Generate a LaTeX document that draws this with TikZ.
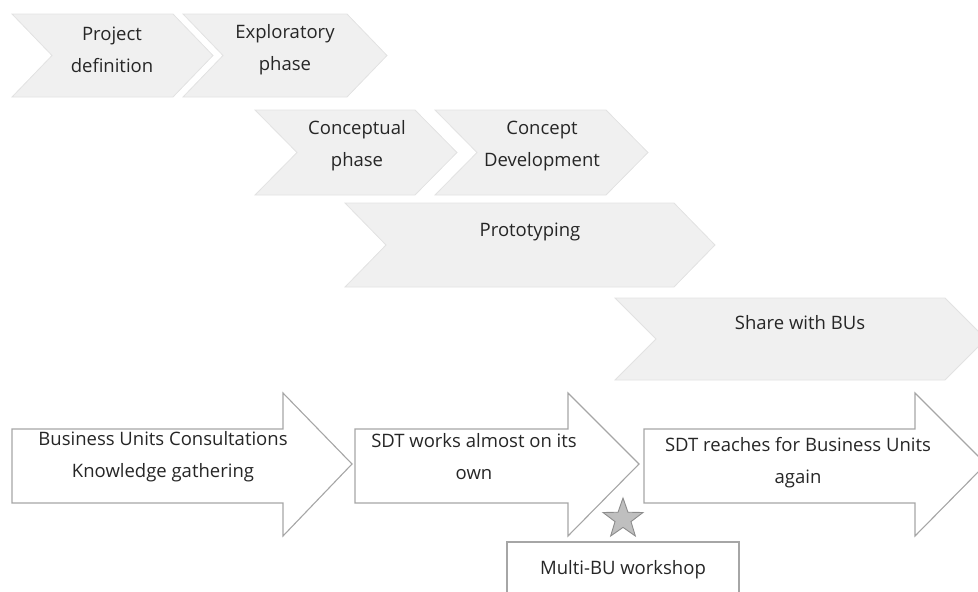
\documentclass[tikz,border=0pt]{standalone}
\usepackage{fontspec}
\setmainfont{Open Sans}
\usetikzlibrary{shapes.geometric}
\definecolor{phasefill}{HTML}{F0F0F0}
\definecolor{phaseline}{HTML}{E2E2E2}
\definecolor{blockline}{HTML}{A6A6A6}
\definecolor{starfill}{HTML}{BFBFBF}
\definecolor{starline}{HTML}{8C8C8C}
\tikzset{
        phase/.style={fill=phasefill, draw=phaseline, line width=0.8pt},
        block/.style={fill=white, draw=blockline, line width=1.1pt, line join=miter},
        lbl/.style={align=center, font=\fontsize{18.5}{32}\selectfont, text=black!85, inner sep=0pt},
}

\begin{document}
\begin{tikzpicture}[x=1pt, y=-1pt]
        \useasboundingbox (0,0) rectangle (978,592);
        % phases (chevrons)
        \draw[phase] (12,14) -- (173,14) -- (213,55.5) -- (173,97) -- (12,97) -- (52,55.5) -- cycle;
        \draw[phase] (183,14) -- (347,14) -- (387,55.5) -- (347,97) -- (183,97) -- (223,55.5) -- cycle;
        \draw[phase] (255,110) -- (415,110) -- (457,152.5) -- (415,195) -- (255,195) -- (297,152.5) -- cycle;
        \draw[phase] (435,110) -- (606,110) -- (648,152.5) -- (606,195) -- (435,195) -- (477,152.5) -- cycle;
        \draw[phase] (345,203) -- (674,203) -- (715,245) -- (674,287) -- (345,287) -- (386,245) -- cycle;
        \draw[phase] (615,298) -- (945,298) -- (986,339) -- (945,380) -- (615,380) -- (656,339) -- cycle;
        \node (pd) [lbl] at (112,50) {Project\\definition};
        \node (ep) [lbl] at (285,50) {Exploratory\\phase};
        \node (cp) [lbl] at (357,146) {Conceptual\\phase};
        \node (cd) [lbl] at (542,146) {Concept\\Development};
        \node (pt) [lbl] at (530,232) {Prototyping};
        \node (sb) [lbl] at (800,323) {Share with BUs};
        % big arrows
        \draw[block] (12,429) -- (283,429) -- (283,393) -- (352,464) -- (283,536) -- (283,503) -- (12,503) -- cycle;
        \draw[block] (355,429) -- (568,429) -- (568,393) -- (639,464) -- (568,536) -- (568,503) -- (355,503) -- cycle;
        \draw[block] (644,429) -- (915,429) -- (915,393) -- (986,464) -- (915,536) -- (915,503) -- (644,503) -- cycle;
        \node (bu) [lbl] at (163,457) {Business Units Consultations\\Knowledge gathering};
        \node (sw) [lbl] at (474,457) {SDT works almost on its\\own};
        \node (sr) [lbl] at (798,463) {SDT reaches for Business Units\\again};
        % workshop
        \node (ws) [star, star points=5, star point ratio=2.5, minimum size=42pt, inner sep=0pt,
                fill=starfill, draw=starline, line width=0.9pt] at (623,519) {};
        \draw[block] (507,600) -- (507,542) -- (739,542) -- (739,600);
        \node (mb) [lbl] at (623,570) {Multi-BU workshop};
\end{tikzpicture}
\end{document}
